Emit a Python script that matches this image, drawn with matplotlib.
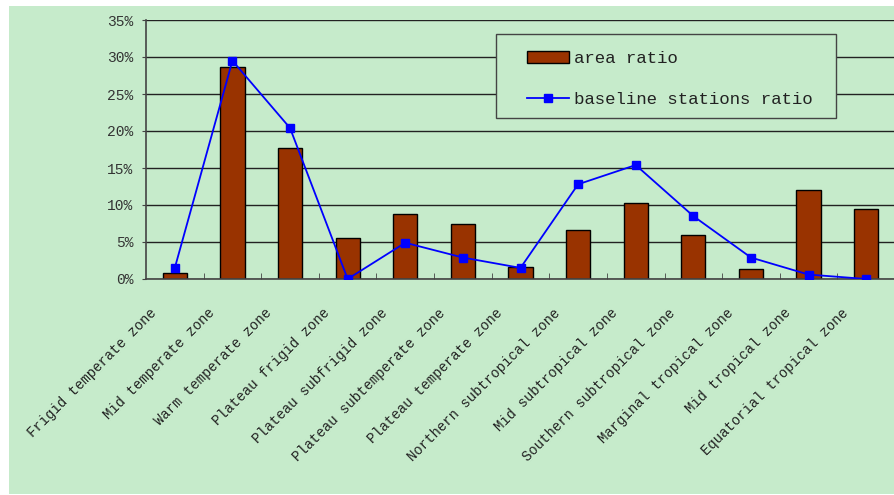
import matplotlib
matplotlib.use("Agg")
import matplotlib.pyplot as plt
import matplotlib.transforms as mtransforms
from matplotlib.patches import Rectangle
from matplotlib.ticker import FuncFormatter

zones = [
    "Frigid temperate zone", "Mid temperate zone", "Warm temperate zone",
    "Plateau frigid zone", "Plateau subfrigid zone", "Plateau subtemperate zone",
    "Plateau temperate zone", "Northern subtropical zone", "Mid subtropical zone",
    "Southern subtropical zone", "Marginal tropical zone", "Mid tropical zone",
    "Equatorial tropical zone",
]
area_ratio = [0.8, 28.6, 17.7, 5.6, 8.8, 7.4, 1.6, 6.6, 10.3, 5.9, 1.4, 12.0, 9.4]
station_ratio = [1.5, 29.5, 20.4, 0.0, 4.9, 2.9, 1.5, 12.8, 15.4, 8.5, 2.9, 0.6, 0.0]
y_ticks = [0, 5, 10, 15, 20, 25, 30, 35]

BG = "#C6EBCB"
FONT = "Liberation Mono"
W, H = 895, 495

fig = plt.figure(figsize=(W / 100, H / 100), dpi=100, facecolor="white")
# green chart area (white margin on top/left like the original export)
fig.patches.append(Rectangle((9 / W, 1 / H), (W - 9) / W, (H - 7) / H,
                             transform=fig.transFigure, facecolor=BG,
                             edgecolor="none", zorder=-1))

ax = fig.add_axes([146 / W, 1 - 279 / H, (W - 146) / W, (279 - 20) / H])
ax.set_zorder(1)
ax.set_facecolor("none")

x = list(range(len(zones)))
bars = ax.bar(x, area_ratio, width=0.42, color="#993300", edgecolor="black",
              linewidth=1, zorder=2, label="area ratio")
line, = ax.plot(x, station_ratio, color="#0000FF", lw=1.3, marker="s",
                markersize=5.5, markeredgecolor="#0000FF", zorder=3,
                label="baseline stations ratio")

ax.set_xlim(-0.5, len(zones) - 0.5)
ax.set_ylim(0, 35)
ax.set_yticks(y_ticks)
ax.yaxis.set_major_formatter(FuncFormatter(lambda v, p: f"{v:.0f}%"))
ax.grid(axis="y", color="#222222", lw=1, zorder=1)
ax.set_axisbelow(True)

for s in ["top", "right"]:
    ax.spines[s].set_visible(False)
for s in ["left", "bottom"]:
    ax.spines[s].set_color("#444444")
    ax.spines[s].set_linewidth(1.2)

# category separators on the x axis, pointing up
ax.set_xticks([i + 0.5 for i in range(len(zones) - 1)], minor=True)
ax.set_xticks(x)
ax.tick_params(axis="x", which="minor", direction="in", length=4, color="#444444")
ax.tick_params(axis="x", which="major", length=0)
ax.tick_params(axis="y", direction="out", length=3, color="#444444", pad=6,
               labelsize=10.5, labelcolor="#333333")
for t in ax.get_yticklabels():
    t.set_fontfamily(FONT)

ax.set_xticklabels(zones, rotation=45, ha="right", va="top",
                   rotation_mode="anchor", fontsize=10, fontfamily=FONT,
                   color="#222222")
offset = mtransforms.ScaledTranslation(-25 / 100, -22 / 100, fig.dpi_scale_trans)
for t in ax.get_xticklabels():
    t.set_transform(t.get_transform() + offset)

# legend box
ax.add_patch(Rectangle((496 / W, 1 - 118 / H), (836 - 496) / W, (118 - 34) / H,
                       transform=fig.transFigure, facecolor=BG,
                       edgecolor="#444444", lw=1, zorder=4, clip_on=False))
leg = ax.legend([bars, line], ["area ratio", "baseline stations ratio"],
                loc="upper left", bbox_to_anchor=(527 / W, 1 - 51 / H),
                bbox_transform=fig.transFigure, frameon=False, borderpad=0,
                borderaxespad=0, handlelength=2.4, handletextpad=0.3,
                labelspacing=1.5, prop={"family": FONT, "size": 12.5})
leg.set_zorder(5)
for t in leg.get_texts():
    t.set_color("#222222")

fig.savefig("out.png", dpi=100, facecolor=fig.get_facecolor())
